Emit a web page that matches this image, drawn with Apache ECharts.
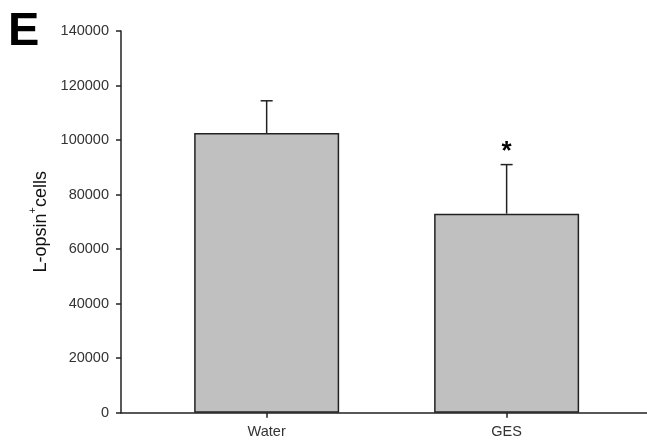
<!DOCTYPE html>
<html>
<head>
<meta charset="utf-8">
<script src="https://cdn.jsdelivr.net/npm/echarts@6/dist/echarts.min.js"></script>
<style>html,body{margin:0;padding:0;background:#fff}#c{width:647px;height:440px}</style>
</head>
<body>
<div id="c"></div>
<script>
const categories = ['Water', 'GES'];
const means = [102600, 73000];
const errors = [11800, 18000];
const significance = ['', '*'];
const yMin = 0, yMax = 140000, yStep = 20000;

const chart = echarts.init(document.getElementById('c'), null, {renderer: 'canvas'});
const labelFont = 'Liberation Sans, Arial, sans-serif';
const positions = categories.map((c, i) => i);

chart.setOption({
  animation: false,
  backgroundColor: '#fff',
  title: {
    text: 'E', left: 3, top: 4,
    textStyle: {fontSize: 47, fontWeight: 'bold', color: '#000', fontFamily: labelFont}
  },
  grid: {left: 121, right: 0, top: 31, bottom: 27.3, containLabel: false, outerBoundsMode: 'none'},
  xAxis: {
    type: 'value', min: -0.607, max: 1.585,
    splitLine: {show: false},
    axisLine: {show: true, onZero: false, lineStyle: {color: '#222', width: 1.5}},
    axisTick: {show: true, customValues: positions, length: 5, lineStyle: {color: '#222', width: 1.5}},
    axisLabel: {
      customValues: positions, margin: 12, color: '#333',
      fontSize: 14.5, fontFamily: labelFont,
      formatter: v => categories[Math.round(v)] || ''
    }
  },
  yAxis: {
    type: 'value', min: yMin, max: yMax, interval: yStep,
    splitLine: {show: false},
    axisLine: {show: true, onZero: false, lineStyle: {color: '#222', width: 1.5}},
    axisTick: {show: true, length: 5, lineStyle: {color: '#222', width: 1.5}},
    axisLabel: {margin: 12, color: '#333', fontSize: 14.5, fontFamily: labelFont, formatter: v => String(v)},
    name: '{a|L-opsin}{s|+}{a|cells}',
    nameLocation: 'middle', nameGap: 68, nameRotate: 90,
    nameTextStyle: {
      rich: {
        a: {fontSize: 18, color: '#111', fontFamily: labelFont, lineHeight: 22, verticalAlign: 'bottom'},
        s: {fontSize: 11, color: '#111', fontFamily: labelFont, lineHeight: 22, verticalAlign: 'top'}
      }
    }
  },
  series: [
    {
      type: 'bar',
      data: means.map((m, i) => [positions[i], m]),
      barWidth: 145,
      itemStyle: {color: '#c0c0c0', borderColor: '#222', borderWidth: 1.5},
      z: 2
    },
    {
      type: 'custom',
      data: means.map((m, i) => [positions[i], m, errors[i]]),
      z: 3,
      renderItem: function (params, api) {
        const x = api.value(0), m = api.value(1), e = api.value(2);
        const p0 = api.coord([x, m]);
        const p1 = api.coord([x, m + e]);
        const cap = 6;
        const st = {stroke: '#222', lineWidth: 1.5};
        const children = [
          {type: 'line', shape: {x1: p0[0], y1: p0[1], x2: p1[0], y2: p1[1]}, style: st},
          {type: 'line', shape: {x1: p1[0] - cap, y1: p1[1], x2: p1[0] + cap, y2: p1[1]}, style: st}
        ];
        const s = significance[params.dataIndex];
        if (s) {
          children.push({
            type: 'text',
            style: {text: s, x: p1[0], y: p1[1], align: 'center', verticalAlign: 'bottom',
                    fontSize: 26, fontWeight: 'bold', fill: '#000', fontFamily: labelFont}
          });
        }
        return {type: 'group', children: children};
      }
    }
  ]
});
</script>
</body>
</html>
